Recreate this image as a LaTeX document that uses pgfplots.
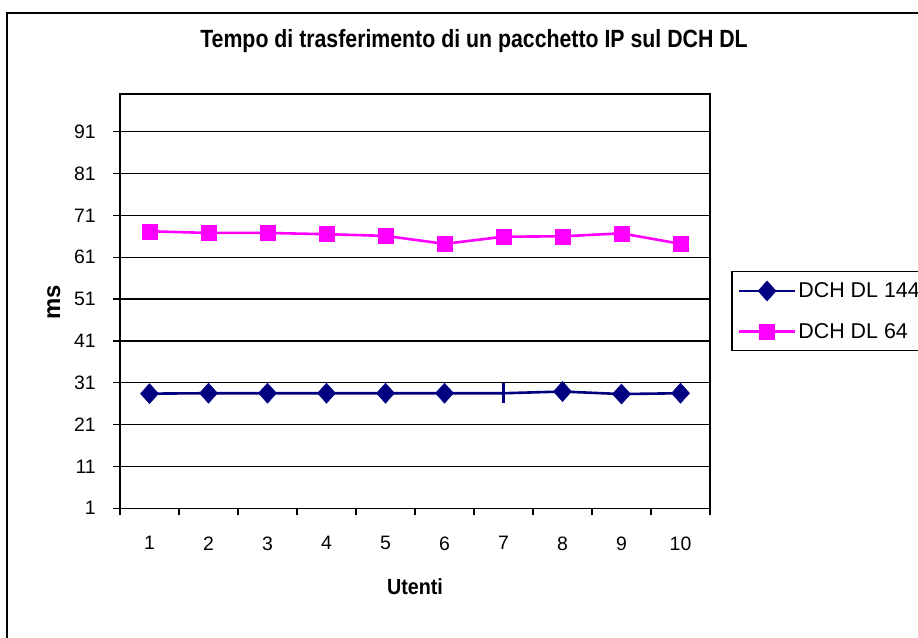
\documentclass[border=0pt]{standalone}
\usepackage{fontspec}
\setmainfont{Liberation Sans}
\newfontfamily\titlefont{Liberation Sans}[FakeStretch=0.855]
\newfontfamily\narrowfont{Liberation Sans}[FakeStretch=0.9]
\usepackage{pgfplots}
\pgfplotsset{compat=1.18}
\definecolor{navyline}{RGB}{0,0,128}
\definecolor{pinkline}{RGB}{255,0,255}
\begin{document}
\begin{tikzpicture}[x=1bp,y=1bp]
\useasboundingbox (0,0) rectangle (918,-638);
\draw[line width=1.5bp] (918,-13) -- (7,-13) -- (7,-638);
\node[font=\titlefont\bfseries\fontsize{25}{28}\selectfont, anchor=base] at (474,-48) {Tempo di trasferimento di un pacchetto IP sul DCH DL};
\begin{axis}[
  at={(120bp,-508.3bp)}, anchor=south west,
  scale only axis, width=590bp, height=414.3bp,
  xmin=0.5, xmax=10.5, ymin=1, ymax=100,
  xtick={1,...,10}, minor xtick={0.5,1.5,...,10.5},
  ytick={1,11,...,91},
  tick pos=left,
  major x tick style={draw=none},
  tick align=outside, major tick length=7bp, minor tick length=7bp,
  tick style={black, line width=1.2bp},
  ymajorgrids, grid style={black, line width=1.2bp},
  axis line style={black, line width=1.6bp},
  /pgf/number format/assume math mode=true,
  ticklabel style={font=\fontsize{19.5}{22}\selectfont, inner sep=0pt},
  xticklabel style={yshift=-21bp},
  yticklabel style={xshift=-17bp},
  xlabel={\narrowfont\bfseries Utenti}, ylabel={\bfseries ms},
  xlabel style={font=\fontsize{22}{24}\selectfont, at={(axis description cs:0.5,-0.19)}, anchor=center},
  ylabel style={font=\fontsize{24}{26}\selectfont, at={(axis description cs:-0.112,0.498)}, anchor=center},
  legend style={at={(axis description cs:1.0356,0.5728)}, anchor=north west,
    draw=black, line width=1.5bp, font=\fontsize{21.5}{24}\selectfont,
    inner xsep=6bp, inner ysep=9bp, row sep=20bp, cells={anchor=west}},
  legend image code/.code={\draw[#1, mark indices={2}] plot coordinates {(0bp,0bp) (28bp,0bp) (56bp,0bp)};},
]
\addplot[navyline, line width=2.6bp, mark=diamond*, mark size=10bp,
  mark indices={1,2,3,4,5,6,8,9,10}, mark options={solid, line width=0.5bp, xscale=1.2}]
  coordinates {(1,28.4) (2,28.5) (3,28.5) (4,28.5) (5,28.5) (6,28.5) (7,28.5) (8,28.9) (9,28.3) (10,28.5)};
\addlegendentry{\makebox[160bp][l]{DCH DL 144}}
\addplot[pinkline, line width=2.6bp, mark=square*, mark size=7.5bp, mark options={solid, line width=0.5bp}]
  coordinates {(1,67.2) (2,66.8) (3,66.8) (4,66.5) (5,66.1) (6,64.2) (7,65.9) (8,66.0) (9,66.7) (10,64.2)};
\addlegendentry{DCH DL 64}
\addplot[forget plot, only marks, navyline, mark=|, mark size=10bp, mark options={line width=3bp}]
  coordinates {(7,28.5)};
\end{axis}
\end{tikzpicture}
\end{document}
